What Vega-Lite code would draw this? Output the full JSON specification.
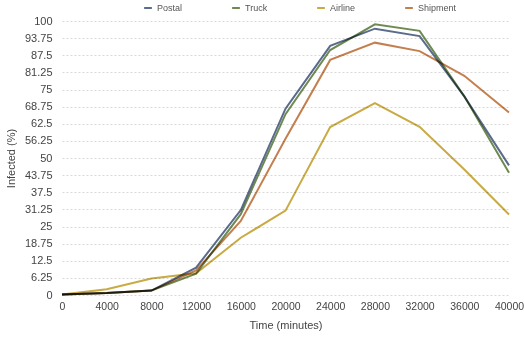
{
  "$schema": "https://vega.github.io/schema/vega-lite/v6.json",
  "width": 447,
  "height": 274,
  "autosize": {"type": "none"},
  "padding": {"left": 62, "top": 21, "right": 15, "bottom": 44},
  "config": {
    "view": {"stroke": null},
    "font": "Liberation Sans",
    "axis": {"labelColor": "#444", "titleColor": "#444", "labelFontSize": 11, "titleFontSize": 11, "titleFontWeight": "normal", "domain": false, "ticks": false}
  },
  "data": {
    "values": [
      {"time": 0, "series": "Postal", "v": 0.2},
      {"time": 4000, "series": "Postal", "v": 0.7},
      {"time": 8000, "series": "Postal", "v": 1.6},
      {"time": 12000, "series": "Postal", "v": 10},
      {"time": 16000, "series": "Postal", "v": 31},
      {"time": 20000, "series": "Postal", "v": 68},
      {"time": 24000, "series": "Postal", "v": 90.9},
      {"time": 28000, "series": "Postal", "v": 97.2},
      {"time": 32000, "series": "Postal", "v": 94.5},
      {"time": 36000, "series": "Postal", "v": 72.5},
      {"time": 40000, "series": "Postal", "v": 47.3},
      {"time": 0, "series": "Truck", "v": 0.2},
      {"time": 4000, "series": "Truck", "v": 0.7},
      {"time": 8000, "series": "Truck", "v": 1.6},
      {"time": 12000, "series": "Truck", "v": 7.8},
      {"time": 16000, "series": "Truck", "v": 29.5},
      {"time": 20000, "series": "Truck", "v": 66},
      {"time": 24000, "series": "Truck", "v": 89.4},
      {"time": 28000, "series": "Truck", "v": 98.8},
      {"time": 32000, "series": "Truck", "v": 96.4},
      {"time": 36000, "series": "Truck", "v": 72.5},
      {"time": 40000, "series": "Truck", "v": 44.6},
      {"time": 0, "series": "Airline", "v": 0.2},
      {"time": 4000, "series": "Airline", "v": 2.1},
      {"time": 8000, "series": "Airline", "v": 6},
      {"time": 12000, "series": "Airline", "v": 7.9},
      {"time": 16000, "series": "Airline", "v": 20.9},
      {"time": 20000, "series": "Airline", "v": 30.8},
      {"time": 24000, "series": "Airline", "v": 61.3},
      {"time": 28000, "series": "Airline", "v": 70},
      {"time": 32000, "series": "Airline", "v": 61.4},
      {"time": 36000, "series": "Airline", "v": 45.8},
      {"time": 40000, "series": "Airline", "v": 29.4},
      {"time": 0, "series": "Shipment", "v": 0.2},
      {"time": 4000, "series": "Shipment", "v": 0.7},
      {"time": 8000, "series": "Shipment", "v": 1.6},
      {"time": 12000, "series": "Shipment", "v": 9},
      {"time": 16000, "series": "Shipment", "v": 27},
      {"time": 20000, "series": "Shipment", "v": 57},
      {"time": 24000, "series": "Shipment", "v": 85.8},
      {"time": 28000, "series": "Shipment", "v": 92.1},
      {"time": 32000, "series": "Shipment", "v": 89},
      {"time": 36000, "series": "Shipment", "v": 80},
      {"time": 40000, "series": "Shipment", "v": 66.6}
    ]
  },
  "mark": {"type": "line", "strokeWidth": 2, "blend": "multiply"},
  "encoding": {
    "x": {
      "field": "time", "type": "quantitative", "title": "Time (minutes)",
      "scale": {"domain": [0, 40000], "nice": false},
      "axis": {"values": [0, 4000, 8000, 12000, 16000, 20000, 24000, 28000, 32000, 36000, 40000], "format": "d", "grid": false, "labelPadding": 6, "titlePadding": 8, "labelFlush": false, "labelFontSize": 10.5}
    },
    "y": {
      "field": "v", "type": "quantitative", "title": "Infected (%)",
      "scale": {"domain": [0, 100], "nice": false},
      "axis": {"values": [0, 6.25, 12.5, 18.75, 25, 31.25, 37.5, 43.75, 50, 56.25, 62.5, 68.75, 75, 81.25, 87.5, 93.75, 100], "format": ".6~r", "grid": true, "gridColor": "#d8d8d8", "gridDash": [2, 2], "labelPadding": 10, "titlePadding": 8, "labelFlush": false}
    },
    "color": {
      "field": "series", "type": "nominal",
      "scale": {"domain": ["Postal", "Truck", "Airline", "Shipment"], "range": ["#5a6b8c", "#6e8a52", "#c9aa44", "#c47f4f"]},
      "legend": {"title": null, "orient": "none", "legendX": 81, "legendY": -18, "direction": "horizontal", "columns": 4, "symbolType": "stroke", "symbolSize": 60, "symbolStrokeWidth": 2, "labelFontSize": 9, "labelColor": "#555", "columnPadding": 45, "gridAlign": "none"}
    }
  }
}
